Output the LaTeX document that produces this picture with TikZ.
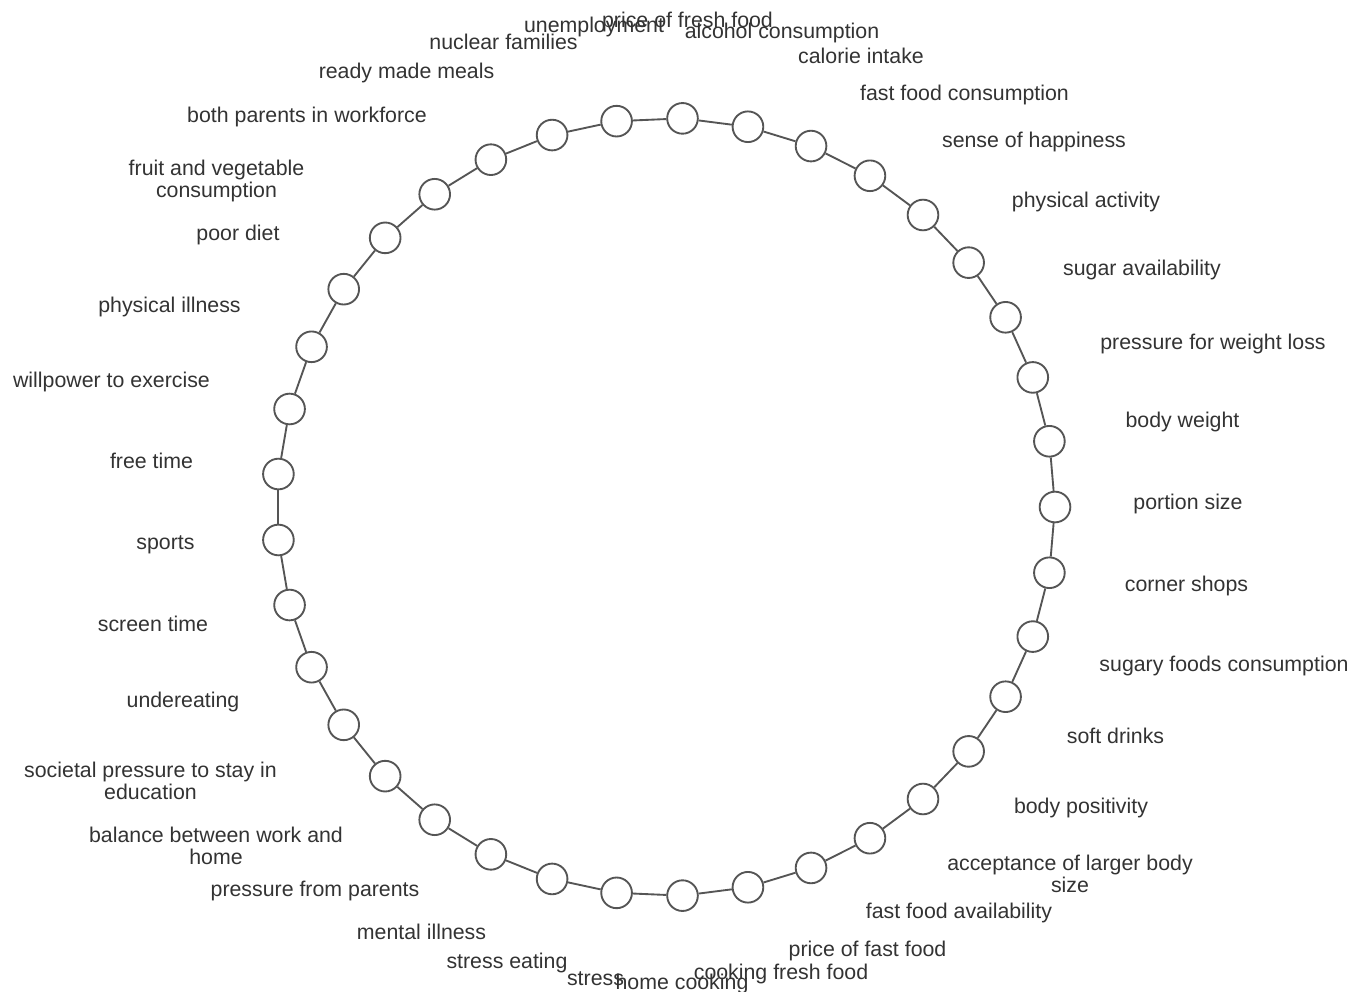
\documentclass[tikz,border=0pt]{standalone}
\usepackage{fontspec}
\setmainfont{Liberation Sans}
\definecolor{edgegray}{HTML}{555555}
\definecolor{textgray}{HTML}{333333}
\newcommand{\twoline}[2]{\begin{tabular}[t]{@{}c@{}}#1\\#2\end{tabular}}
\begin{document}
\begin{tikzpicture}[x=0.75pt,y=-0.75pt,
  vnode/.style={circle,draw=edgegray,fill=white,line width=1.4pt,minimum size=23pt,inner sep=0pt},
  link/.style={draw=edgegray,line width=1.4pt},
  lbl/.style={text=textgray,font=\fontsize{16}{16.5}\selectfont,anchor=base,inner sep=0pt}]
\useasboundingbox (0,0) rectangle (1353,992);
\fill[white] (0,0) rectangle (1353,992);
\foreach \k in {0,...,36} {
  \pgfmathsetmacro\ang{\k*360/37}
  \node[vnode] (n\k) at ({666+389*cos(\ang)},{507-389*sin(\ang)}) {};
}
\foreach \k [evaluate=\k as \j using {int(mod(\k+1,37))}] in {0,...,36}
  \draw[link] (n\k) -- (n\j);
\node[lbl] (l0) at (1188,509) {portion size};
\node[lbl] (l1) at (1182.5,427) {body weight};
\node[lbl] (l2) at (1213,349) {pressure for weight loss};
\node[lbl] (l3) at (1142,275) {sugar availability};
\node[lbl] (l4) at (1086,207) {physical activity};
\node[lbl] (l5) at (1034,147) {sense of happiness};
\node[lbl] (l6) at (964.5,100) {fast food consumption};
\node[lbl] (l7) at (861,63) {calorie intake};
\node[lbl] (l8) at (782,38) {alcohol consumption};
\node[lbl] (l9) at (687.5,27) {price of fresh food};
\node[lbl] (l10) at (594,32) {unemployment};
\node[lbl] (l11) at (503.5,49) {nuclear families};
\node[lbl] (l12) at (406.5,78) {ready made meals};
\node[lbl] (l13) at (307,122) {both parents in workforce};
\node[lbl] (l14) at (216.5,175) {\twoline{fruit and vegetable}{consumption}};
\node[lbl] (l15) at (238,240) {poor diet};
\node[lbl] (l16) at (169.5,312) {physical illness};
\node[lbl] (l17) at (111.5,387) {willpower to exercise};
\node[lbl] (l18) at (151.5,468) {free time};
\node[lbl] (l19) at (165.5,549) {sports};
\node[lbl] (l20) at (153,631) {screen time};
\node[lbl] (l21) at (183,707) {undereating};
\node[lbl] (l22) at (150.5,777) {\twoline{societal pressure to stay in}{education}};
\node[lbl] (l23) at (216,842) {\twoline{balance between work and}{home}};
\node[lbl] (l24) at (315,896) {pressure from parents};
\node[lbl] (l25) at (421.5,939) {mental illness};
\node[lbl] (l26) at (507,968) {stress eating};
\node[lbl] (l27) at (595.5,985) {stress};
\node[lbl] (l28) at (682,989) {home cooking};
\node[lbl] (l29) at (781,979) {cooking fresh food};
\node[lbl] (l30) at (867.5,956) {price of fast food};
\node[lbl] (l31) at (959,918) {fast food availability};
\node[lbl] (l32) at (1070,870) {\twoline{acceptance of larger body}{size}};
\node[lbl] (l33) at (1081,813) {body positivity};
\node[lbl] (l34) at (1115.5,743) {soft drinks};
\node[lbl] (l35) at (1224,671) {sugary foods consumption};
\node[lbl] (l36) at (1186.5,591) {corner shops};
\end{tikzpicture}
\end{document}
